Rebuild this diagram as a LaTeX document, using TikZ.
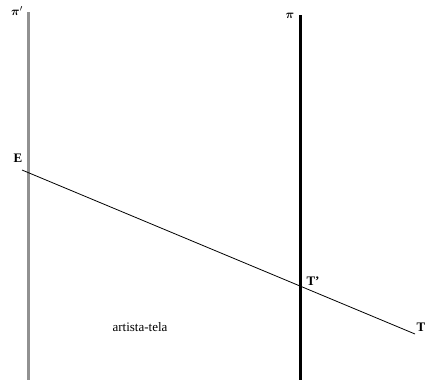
\documentclass[tikz,border=0pt]{standalone}
\usepackage{amsmath,bm}
\usepackage{fontspec}
\setmainfont{Liberation Serif}
\definecolor{planegray}{RGB}{145,145,145}
\begin{document}
\begin{tikzpicture}[x=1pt,y=-1pt]
    % Style definitions
    \tikzset{
      plane/.style={line width=3pt},
      ray/.style={draw=black, line width=0.8pt},
      lbl/.style={font=\bfseries\fontsize{13}{13}\selectfont, inner sep=0pt},
      caption/.style={font=\fontsize{13}{13}\selectfont, inner sep=0pt},
    }
    \useasboundingbox (0,0) rectangle (425,380);

    % the two planes
    \coordinate (ptop) at (28,12);
    \coordinate (pbot) at (28,380);
    \coordinate (qtop) at (300,15);
    \coordinate (qbot) at (300,380);
    \draw[plane, planegray] (ptop) -- (pbot);
    \draw[plane, black] (qtop) -- (qbot);
    \node[lbl] (pilbl) at (17,11) {$\bm{\pi}'$};
    \node[lbl] (qlbl) at (290,16) {$\bm{\pi}$};

    % ray from eye to object
    \coordinate (E) at (22,170);
    \coordinate (T) at (415,334);
    \draw[ray] (E) -- (T);
    \node[lbl] (Elbl) at (18,158) {E};
    \node[lbl] (Tplbl) at (313,281) {T'};
    \node[lbl] (Tlbl) at (421,327) {T};

    \node[caption] (tela) at (140,327) {artista-tela};
\end{tikzpicture}
\end{document}
